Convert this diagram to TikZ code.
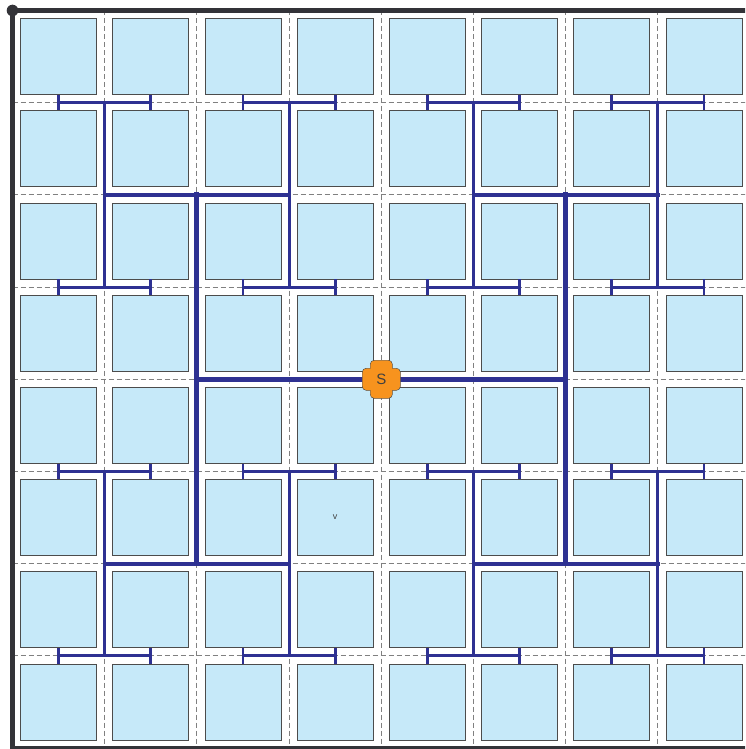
\documentclass[tikz,border=0pt]{standalone}
\usepackage{fontspec}
\newfontfamily\labelfont{Liberation Sans}
\definecolor{cellblue}{RGB}{198, 233, 249}
\definecolor{treeblue}{RGB}{46, 49, 146}
\definecolor{srcorange}{RGB}{247, 147, 30}
\definecolor{framegray}{RGB}{51, 51, 56}
\usepackage{tikz}
\usetikzlibrary{calc}

\begin{document}
\begin{tikzpicture}[x=1pt, y=-1pt,
    cellbox/.style={draw=black!70, fill=cellblue, line width=0.8pt,
                    minimum size=76pt, inner sep=0pt},
    gridline/.style={black!50, dash pattern=on 5pt off 3pt, line width=1pt},
    wire1/.style={treeblue, line width=5pt, line cap=rect},
    wire2/.style={treeblue, line width=3.6pt, line cap=rect},
    wire3/.style={treeblue, line width=2.9pt, line cap=rect},
    wire4/.style={treeblue, line width=2.8pt},
    srcshape/.style={draw=black!70, line width=0.6pt, fill=srcorange}]
    \useasboundingbox (0,0) rectangle (745,749);
    \clip (0,0) rectangle (745,749);

    % dashed routing grid
    \foreach \i in {1,...,7} {
      \draw[gridline] ({12.5+92.2*\i},10.5) -- ({12.5+92.2*\i},748);
      \draw[gridline] (12.5,{10.5+92.2*\i}) -- (750,{10.5+92.2*\i});
    }

    % sinks
    \foreach \r in {0,...,7}
      \foreach \c in {0,...,7}
        \node[cellbox] (sq-\r-\c) at ({58.6+92.2*\c},{56.6+92.2*\r}) {};
    \node[font=\labelfont\small, text=black!75] (vlab) at (sq-5-3) {v};

    % leaf taps
    \foreach \r/\rn in {0/1,2/3,4/5,6/7}
      \foreach \c in {0,...,7} {
        \coordinate (t-\r-\c) at ($(sq-\r-\c.south)!.5!(sq-\rn-\c.north)$);
        \draw[wire4] (sq-\r-\c.south) -- (sq-\rn-\c.north);
      }

    % level 3: pairs of taps
    \foreach \r in {0,2,4,6}
      \foreach \c/\cn in {0/1,2/3,4/5,6/7} {
        \draw[wire3] (t-\r-\c) -- (t-\r-\cn);
        \coordinate (u-\r-\c) at ($(t-\r-\c)!.5!(t-\r-\cn)$);
      }
    \foreach \r/\rn in {0/2,4/6}
      \foreach \c in {0,2,4,6} {
        \draw[wire3] (u-\r-\c) -- (u-\rn-\c);
        \coordinate (w-\r-\c) at ($(u-\r-\c)!.5!(u-\rn-\c)$);
      }

    % level 2
    \foreach \r in {0,4}
      \foreach \c/\cn in {0/2,4/6} {
        \draw[wire2] (w-\r-\c) -- (w-\r-\cn);
        \coordinate (z-\r-\c) at ($(w-\r-\c)!.5!(w-\r-\cn)$);
      }

    % level 1
    \foreach \c in {0,4} {
      \draw[wire1] (z-0-\c) -- (z-4-\c);
      \coordinate (mid-\c) at ($(z-0-\c)!.5!(z-4-\c)$);
    }
    \draw[wire1] (mid-0) -- (mid-4);

    % clock source
    \coordinate (srcpos) at ($(mid-0)!.5!(mid-4)$);
    \begin{scope}[shift={(srcpos)}]
      \filldraw[srcshape, rounded corners=4pt] (-19,-11) rectangle (19,11);
      \filldraw[srcshape, rounded corners=4pt] (-11,-19) rectangle (11,19);
      \filldraw[srcshape] (0,0) circle (14.5);
      \fill[srcorange, rounded corners=4pt] (-18.7,-10.7) rectangle (18.7,10.7);
      \fill[srcorange, rounded corners=4pt] (-10.7,-18.7) rectangle (10.7,18.7);
      \fill[srcorange] (0,0) circle (14.2);
    \end{scope}
    \node[font=\labelfont\fontsize{15}{15}\selectfont, text=black!75,
          inner sep=0pt] (src) at (srcpos) {S};

    % frame
    \draw[framegray, line width=4.6pt] (12.5,10.5) rectangle (750,748);
    \fill[framegray] (12.5,10.5) circle (5.8);
  \end{tikzpicture}
\end{document}
